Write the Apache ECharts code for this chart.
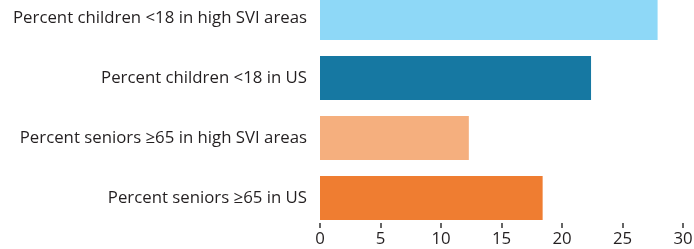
<!DOCTYPE html>
<html>
<head>
<meta charset="utf-8">
<script src="https://cdn.jsdelivr.net/npm/echarts@6/dist/echarts.min.js"></script>
<style>
html,body{margin:0;padding:0;background:#fff;}
#chart{width:694px;height:249px;}
</style>
</head>
<body>
<div id="chart"></div>
<script>
const categories = [
  "Percent children <18 in high SVI areas",
  "Percent children <18 in US",
  "Percent seniors \u226565 in high SVI areas",
  "Percent seniors \u226565 in US"
];
const values = [27.9, 22.4, 12.3, 18.4];
const barColors = ["#8ED8F7", "#1678A2", "#F5AF7E", "#EF7D31"];
const xTicks = [0, 5, 10, 15, 20, 25, 30];

const chart = echarts.init(document.getElementById('chart'), null, {renderer: 'canvas'});
chart.setOption({
  animation: false,
  backgroundColor: '#ffffff',
  grid: {left: 320, right: 11, top: -12, bottom: 21, containLabel: false, outerBoundsMode: 'none'},
  xAxis: {
    type: 'value',
    min: xTicks[0],
    max: xTicks[xTicks.length - 1],
    interval: xTicks[1] - xTicks[0],
    axisLine: {show: false},
    axisTick: {show: true, inside: true, length: 5, lineStyle: {color: '#333', width: 1.5}},
    splitLine: {show: false},
    axisLabel: {color: '#231F20', fontFamily: 'Open Sans', fontSize: 16.8, margin: 3}
  },
  yAxis: {
    type: 'category',
    inverse: true,
    data: categories,
    axisLine: {show: false},
    axisTick: {show: false},
    axisLabel: {color: '#231F20', fontFamily: 'Open Sans', fontSize: 16.8, margin: 13}
  },
  series: [{
    type: 'bar',
    data: values.map((v, i) => ({value: v, itemStyle: {color: barColors[i]}})),
    barCategoryGap: '27%'
  }]
});
</script>
</body>
</html>
